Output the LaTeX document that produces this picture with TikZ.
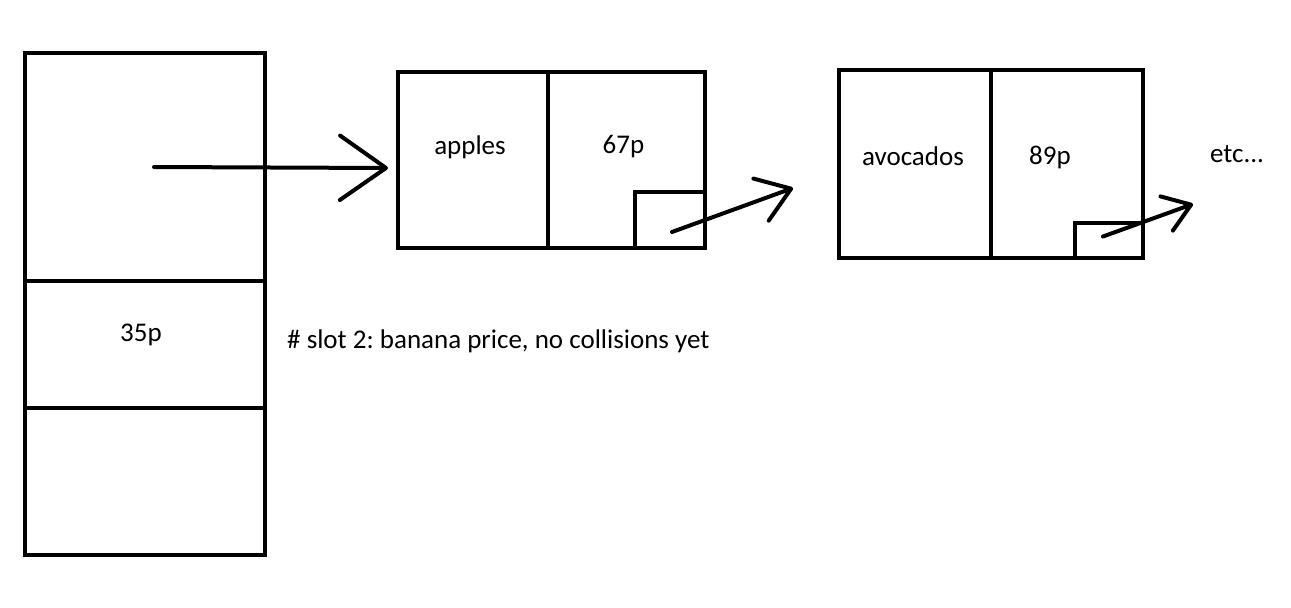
\documentclass[tikz,border=0pt]{standalone}
\usepackage{fontspec}
\setmainfont{Carlito}
\usetikzlibrary{arrows.meta, positioning}
\frenchspacing

\begin{document}
\begin{tikzpicture}[
  x=1pt, y=-1pt,
  every node/.style={font=\fontsize{27}{31}\selectfont},
  cell/.style={rectangle, draw=black, line width=4pt, inner sep=0pt, outer sep=0pt},
  word/.style={inner sep=0pt},
  ptr/.style={line width=4pt, line cap=round, -{Straight Barb[round, length=#1, width'=0pt 1.4]}}
]
\useasboundingbox (0,0) rectangle (1291,608);

% hash table slots
\node[cell, anchor=north west, minimum width=240pt, minimum height=228pt] (slot1) at (25,53) {};
\node[cell, below=0pt of slot1, minimum width=240pt, minimum height=127pt] (slot2) {};
\node[cell, below=0pt of slot2, minimum width=240pt, minimum height=147pt] (slot3) {};
\node[word] (price2) at ([xshift=-4pt, yshift=10pt]slot2.center) {35p};
\node[word, right=22pt of slot2, yshift=3pt] (note) {\# slot 2: banana price, no collisions yet};

% first entry of the chain
\node[cell, anchor=north west, minimum width=150pt, minimum height=176pt] (key1) at (398,72) {};
\node[cell, right=0pt of key1, minimum width=157pt, minimum height=176pt] (val1) {};
\node[cell, anchor=south east, minimum width=70pt, minimum height=56pt] (next1) at (val1.south east) {};
\node[word] (fruit1) at ([xshift=-3pt, yshift=13pt]key1.center) {apples};
\node[word] (price1) at ([xshift=-3pt, yshift=13pt]val1.center) {67p};

% second entry of the chain
\node[cell, anchor=north west, minimum width=152pt, minimum height=188pt] (key2) at (839,70) {};
\node[cell, right=0pt of key2, minimum width=152pt, minimum height=188pt] (val2) {};
\node[cell, anchor=south east, minimum width=68pt, minimum height=35pt] (next2) at (val2.south east) {};
\node[word] (fruit2) at ([xshift=-2pt, yshift=8pt]key2.center) {avocados};
\node[word] (price3) at ([xshift=-17pt, yshift=7pt]val2.center) {89p};
\node[word] (etc) at (1237,154) {etc...};

% pointers
\coordinate (from1) at ([xshift=9pt]slot1.center);
\coordinate (to1) at ([xshift=-10pt, yshift=-8pt]key1.west);
\coordinate (from2) at ([xshift=2pt, yshift=-12pt]next1.center);
\coordinate (to2) at (793,188);
\coordinate (from3) at ([xshift=-6pt, yshift=4pt]next2.center);
\coordinate (to3) at (1193,204);

\draw[ptr=46pt] (from1) -- (to1);
\draw[ptr=32pt] (from2) -- (to2);
\draw[ptr=26pt] (from3) -- (to3);
\end{tikzpicture}
\end{document}
